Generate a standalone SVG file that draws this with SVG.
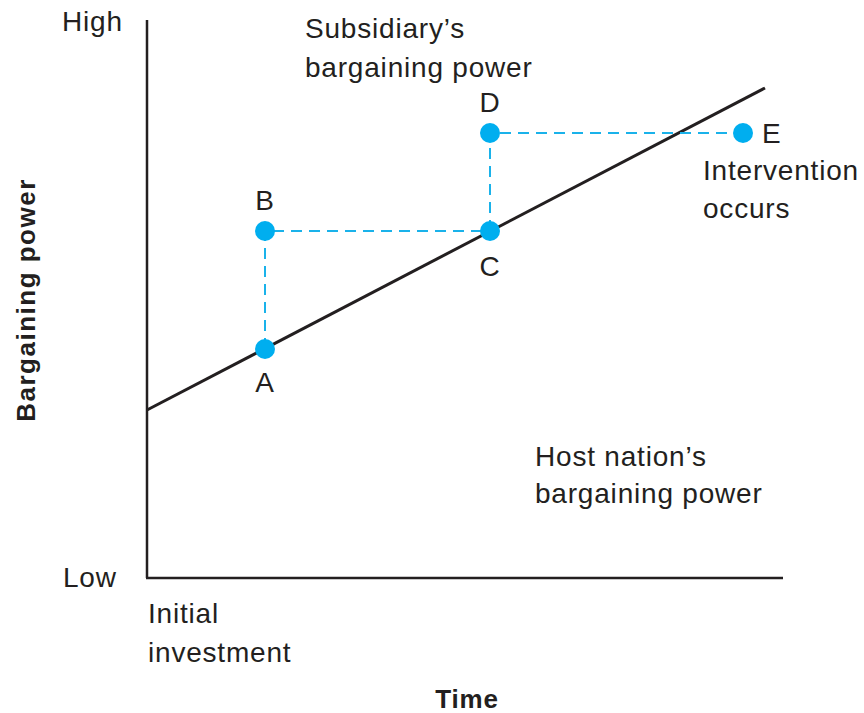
<svg xmlns="http://www.w3.org/2000/svg" width="864" height="713" viewBox="0 0 864 713">
<style>
text{font-family:"Liberation Sans",Arial,sans-serif;font-size:28px;letter-spacing:0.8px;fill:#231f20}
.b{font-weight:bold}
.m{text-anchor:middle}
.axis{stroke:#231f20;stroke-width:2.5;fill:none}
.dash{stroke:#1ab2ea;stroke-width:2;stroke-dasharray:11 7;fill:none}
.pt{fill:#00aeef}
</style>
<rect width="864" height="713" fill="#fff"/>
<g id="axes">
<line class="axis" x1="147" y1="20" x2="147" y2="578"/>
<line class="axis" x1="146" y1="578" x2="783" y2="578"/>
<line x1="147" y1="410" x2="765" y2="88" stroke="#231f20" stroke-width="3"/>
</g>
<g id="connectors">
<path class="dash" d="M265 349 V231 H490"/>
<path class="dash" d="M490 231 V133 H743"/>
</g>
<g id="A"><circle class="pt" cx="265" cy="349" r="10"/><text class="m" x="265" y="392">A</text></g>
<g id="B"><circle class="pt" cx="265" cy="231" r="10"/><text class="m" x="265" y="210">B</text></g>
<g id="C"><circle class="pt" cx="490" cy="231" r="10"/><text class="m" x="490" y="276">C</text></g>
<g id="D"><circle class="pt" cx="490" cy="133" r="10"/><text class="m" x="490" y="112">D</text></g>
<g id="E"><circle class="pt" cx="743" cy="133" r="10"/><text x="762" y="143">E</text>
<text x="703" y="180">Intervention</text><text x="703" y="218">occurs</text></g>
<g id="labels">
<text x="62" y="31">High</text>
<text x="63" y="587">Low</text>
<text x="305" y="38">Subsidiary’s</text>
<text x="305" y="77">bargaining power</text>
<text x="535" y="466">Host nation’s</text>
<text x="535" y="503">bargaining power</text>
<text x="148" y="623">Initial</text>
<text x="148" y="662">investment</text>
<text class="b m" x="467" y="708" style="font-size:26px">Time</text>
<text class="b m" transform="translate(35 300) rotate(-90)" style="font-size:26px;letter-spacing:1.5px">Bargaining power</text>
</g>
</svg>
